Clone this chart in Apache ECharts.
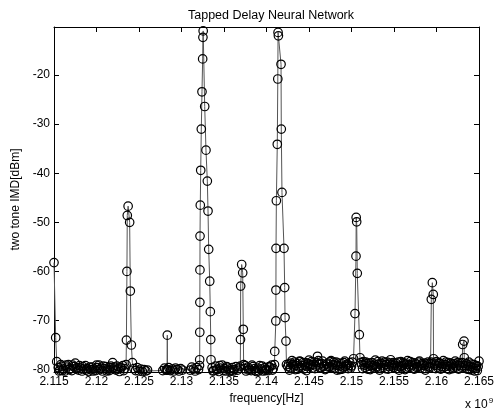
<!DOCTYPE html>
<html>
<head>
<meta charset="utf-8">
<title>Tapped Delay Neural Network</title>
<script src="https://cdn.jsdelivr.net/npm/echarts@6/dist/echarts.min.js"></script>
<style>
  html, body { margin: 0; padding: 0; background: #fff; }
  #chart { width: 502px; height: 413px; }
</style>
</head>
<body>
<div id="chart"></div>
<script>
// frequency in GHz (axis shows x 10^9), level in dBm
var freqTicks = [2.115, 2.12, 2.125, 2.13, 2.135, 2.14, 2.145, 2.15, 2.155, 2.16, 2.165];
var freqTickLabels = ['2.115', '2.12', '2.125', '2.13', '2.135', '2.14', '2.145', '2.15', '2.155', '2.16', '2.165'];
var imdTicks = [-80, -70, -60, -50, -40, -30, -20];

var edge2115 = [[2.1150,-58.2],[2.11520,-73.5],[2.11532,-78.4]];
var floor2115 = [[2.1155,-79.6],[2.1156,-80.3],[2.1157,-80.1],[2.1158,-79.0],[2.1159,-79.3],[2.1160,-80.2],[2.1161,-79.9],[2.1163,-80.3],[2.1164,-79.1],[2.1165,-79.5],[2.1167,-79.0],[2.1168,-80.0],[2.1169,-79.8],[2.1171,-80.2],[2.1172,-79.1],[2.1173,-79.4],[2.1175,-78.7],[2.1176,-79.9],[2.1177,-79.6],[2.1179,-80.1],[2.1180,-79.2],[2.1181,-79.7],[2.1183,-80.3],[2.1184,-79.4],[2.1185,-79.9],[2.1187,-79.2],[2.1188,-80.1],[2.1189,-79.8],[2.1191,-80.4],[2.1192,-79.5],[2.1193,-80.0],[2.1195,-79.5],[2.1196,-80.3],[2.1197,-79.9],[2.1199,-80.2],[2.1200,-79.1],[2.1201,-79.6],[2.1203,-79.1],[2.1204,-80.0],[2.1205,-79.7],[2.1207,-80.3],[2.1208,-79.3],[2.1209,-79.8],[2.1211,-79.4],[2.1212,-80.3],[2.1213,-80.0],[2.1215,-80.2],[2.1216,-79.6],[2.1217,-79.3],[2.1219,-78.6],[2.1220,-79.9],[2.1221,-79.5],[2.1223,-80.1],[2.1224,-79.3],[2.1225,-79.9],[2.1227,-80.4],[2.1228,-79.5],[2.1229,-79.7],[2.1231,-79.2],[2.1232,-80.2],[2.1233,-79.8]];
var peak2124 = [[2.12348,-79.0],[2.12352,-74.0],[2.12358,-60.0],[2.12362,-48.6],[2.12372,-46.7],[2.12390,-50.0],[2.12398,-64.0],[2.12410,-75.0],[2.12422,-78.6]];
var floor2125 = [[2.1244,-79.8],[2.1246,-80.2],[2.1248,-79.6],[2.1250,-80.3],[2.1252,-79.9],[2.1254,-80.4],[2.1256,-80.0],[2.1258,-80.3],[2.1260,-80.1]];
var floor2128 = [[2.1278,-80.2],[2.1280,-79.7],[2.1282,-80.1],[2.12830,-80.0],[2.12833,-73.0],[2.12836,-80.1],[2.1285,-79.6],[2.1287,-80.2],[2.1289,-79.9],[2.1291,-80.3],[2.1293,-79.7],[2.1295,-80.0],[2.1297,-80.3],[2.1299,-79.8],[2.1301,-80.1]];
var floor2131 = [[2.1310,-80.1],[2.1312,-79.5],[2.1314,-79.9],[2.1316,-80.3],[2.1318,-79.6],[2.1320,-80.0]];
var peak2132 = [[2.13212,-79.2],[2.13214,-78.0],[2.13215,-72.4],[2.13216,-66.3],[2.13217,-59.7],[2.13218,-52.8],[2.13221,-46.5],[2.13226,-39.4],[2.13233,-31.0],[2.13241,-23.4],[2.13249,-16.7],[2.13252,-12.3],[2.13255,-11.0],[2.13273,-26.4],[2.13288,-35.3],[2.13304,-41.6],[2.13312,-47.7],[2.13320,-55.5],[2.13332,-62.0],[2.13339,-68.2],[2.13344,-73.9],[2.13347,-78.0]];
var floor2134 = [[2.1336,-79.6],[2.1337,-80.3],[2.1338,-80.2],[2.1340,-79.3],[2.1341,-80.1],[2.1342,-79.9],[2.1344,-80.4],[2.1345,-79.2],[2.1346,-79.7],[2.1348,-79.1],[2.1349,-80.2],[2.1350,-79.8],[2.1352,-80.3],[2.1353,-79.4],[2.1354,-79.5],[2.1356,-79.9],[2.1357,-80.4],[2.1358,-80.2],[2.1360,-79.6],[2.1361,-80.3],[2.1362,-80.0],[2.1364,-79.4],[2.1366,-80.1],[2.1368,-79.7]];
var peak2137 = [[2.13692,-79.3],[2.13694,-73.9],[2.13696,-63.0],[2.13708,-58.6],[2.13720,-60.3],[2.13727,-71.8],[2.13731,-79.0]];
var floor2138 = [[2.1374,-79.8],[2.1375,-79.2],[2.1376,-80.3],[2.1378,-79.5],[2.1379,-80.1],[2.1380,-79.9],[2.1382,-80.2],[2.1383,-79.1],[2.1384,-79.4],[2.1386,-79.8],[2.1387,-80.2],[2.1388,-80.4],[2.1390,-79.7],[2.1391,-80.3],[2.1392,-79.2],[2.1394,-79.9],[2.1395,-79.3],[2.1396,-80.3],[2.1398,-79.6],[2.1399,-80.2],[2.1400,-80.0],[2.1402,-80.2],[2.1403,-79.4],[2.1404,-79.5],[2.1406,-79.1],[2.1407,-80.1],[2.1408,-79.8]];
var peak2141 = [[2.14094,-79.0],[2.14097,-76.3],[2.14110,-70.1],[2.14111,-63.8],[2.14112,-55.3],[2.14116,-45.6],[2.14127,-34.1],[2.14133,-20.8],[2.14136,-11.3],[2.14140,-12.0],[2.14171,-17.8],[2.14174,-31.0],[2.14182,-43.9],[2.14206,-55.3],[2.14214,-63.3],[2.14218,-69.4],[2.14229,-74.2],[2.14235,-79.0]];
var floor2145 = [[2.1425,-79.4],[2.1426,-78.9],[2.1427,-80.1],[2.1428,-79.6],[2.1429,-78.7],[2.1430,-78.2],[2.1431,-79.0],[2.1432,-79.3],[2.1433,-78.5],[2.1434,-80.0],[2.1435,-79.2],[2.1436,-78.8],[2.1437,-79.9],[2.1438,-79.5],[2.1439,-78.3],[2.1440,-78.4],[2.1441,-79.6],[2.1442,-79.2],[2.1443,-78.6],[2.1444,-79.9],[2.1445,-79.1],[2.1446,-78.6],[2.1447,-80.2],[2.1448,-79.4],[2.1449,-78.8],[2.1450,-78.1],[2.1451,-79.3],[2.1452,-79.0],[2.1453,-78.4],[2.1454,-79.7],[2.1455,-79.0],[2.1456,-78.5],[2.1457,-79.8],[2.1458,-79.3],[2.1459,-78.6],[2.1460,-77.3],[2.1461,-78.2],[2.1462,-78.9],[2.1463,-79.7],[2.1464,-79.6],[2.1465,-78.8],[2.1466,-78.3],[2.1467,-79.4],[2.1468,-79.1],[2.1469,-80.0],[2.1470,-79.8],[2.1471,-78.9],[2.1472,-78.7],[2.1473,-79.5],[2.1474,-79.4],[2.1475,-78.4],[2.1476,-78.2],[2.1477,-79.6],[2.1478,-79.0],[2.1479,-78.5],[2.1480,-79.7],[2.1481,-79.1],[2.1482,-78.5],[2.1483,-80.1],[2.1484,-79.2],[2.1485,-78.7],[2.1486,-80.0],[2.1487,-79.3],[2.1488,-78.8],[2.1489,-79.9],[2.1490,-79.5],[2.1491,-78.6],[2.1492,-78.3],[2.1493,-79.4],[2.1494,-79.1],[2.1495,-78.9],[2.1496,-79.8],[2.1497,-79.2],[2.1498,-78.6],[2.1499,-79.7],[2.1500,-79.3],[2.1501,-78.5]];
var peak2150 = [[2.15024,-77.8],[2.15041,-68.6],[2.15053,-56.9],[2.15055,-49.0],[2.15061,-49.9],[2.15068,-60.4],[2.15092,-72.9],[2.15100,-77.6]];
var floor2155 = [[2.1511,-78.6],[2.1512,-79.0],[2.1513,-79.8],[2.1514,-78.4],[2.1515,-79.1],[2.1516,-79.6],[2.1517,-78.5],[2.1518,-78.8],[2.1519,-79.9],[2.1520,-79.3],[2.1521,-78.7],[2.1522,-80.0],[2.1523,-79.2],[2.1524,-78.6],[2.1525,-79.5],[2.1526,-79.2],[2.1527,-78.9],[2.1528,-78.1],[2.1529,-79.4],[2.1530,-79.5],[2.1531,-78.4],[2.1532,-78.9],[2.1533,-80.1],[2.1534,-79.7],[2.1535,-78.8],[2.1536,-78.3],[2.1537,-79.6],[2.1538,-79.1],[2.1539,-78.5],[2.1540,-79.8],[2.1541,-79.0],[2.1542,-78.5],[2.1543,-79.9],[2.1544,-79.4],[2.1545,-78.7],[2.1546,-78.0],[2.1547,-79.3],[2.1548,-79.0],[2.1549,-78.6],[2.1550,-79.6],[2.1551,-79.1],[2.1552,-78.7],[2.1553,-79.8],[2.1554,-79.3],[2.1555,-78.5],[2.1556,-80.1],[2.1557,-79.4],[2.1558,-78.4],[2.1559,-79.7],[2.1560,-79.2],[2.1561,-78.6],[2.1562,-78.8],[2.1563,-80.0],[2.1564,-79.7],[2.1565,-78.9],[2.1566,-78.2],[2.1567,-79.5],[2.1568,-79.0],[2.1569,-78.4],[2.1570,-79.5],[2.1571,-79.1],[2.1572,-78.6],[2.1573,-79.8],[2.1574,-79.9],[2.1575,-78.7],[2.1576,-78.9],[2.1577,-79.6],[2.1578,-79.4],[2.1579,-78.5],[2.1580,-78.3],[2.1581,-79.7],[2.1582,-79.1],[2.1583,-78.8],[2.1584,-79.8],[2.1585,-79.2],[2.1586,-78.7],[2.1587,-80.1],[2.1588,-79.3],[2.1589,-78.9],[2.1590,-78.5],[2.1591,-79.4],[2.1592,-79.6],[2.1593,-78.8]];
var peak2160 = [[2.15936,-78.5],[2.15939,-65.7],[2.15951,-62.3],[2.15962,-64.7],[2.15965,-77.8]];
var floor2162 = [[2.1597,-78.7],[2.1598,-79.1],[2.1599,-79.8],[2.1600,-78.4],[2.1601,-79.2],[2.1602,-79.7],[2.1603,-78.6],[2.1604,-78.8],[2.1605,-79.9],[2.1606,-79.4],[2.1607,-78.9],[2.1608,-78.2],[2.1609,-79.5],[2.1610,-79.0],[2.1611,-78.5],[2.1612,-79.8],[2.1613,-79.3],[2.1614,-78.6],[2.1615,-80.0],[2.1616,-79.3],[2.1617,-78.7],[2.1618,-78.9],[2.1619,-79.8],[2.1620,-79.6],[2.1621,-78.8],[2.1622,-78.3],[2.1623,-79.5],[2.1624,-79.1],[2.1625,-78.6],[2.1626,-79.9],[2.1627,-79.2],[2.1628,-78.7],[2.1629,-79.5]];
var peak2163 = [[2.16302,-78.6],[2.16308,-74.9],[2.16324,-74.2],[2.16327,-77.6]];
var floor2164 = [[2.1633,-79.5],[2.1634,-79.2],[2.1635,-78.8],[2.1636,-79.9],[2.1637,-79.1],[2.1638,-78.5],[2.1639,-80.0],[2.1640,-79.4],[2.1641,-78.9],[2.1642,-80.1],[2.1643,-79.6],[2.1644,-79.0],[2.1645,-80.3],[2.1646,-79.7],[2.1647,-79.2],[2.1648,-80.2],[2.1649,-79.4],[2.1650,-78.3]];

var imdData = [].concat(edge2115, floor2115, peak2124, floor2125, floor2128, floor2131,
  peak2132, floor2134, peak2137, floor2138, peak2141, floor2145, peak2150,
  floor2155, peak2160, floor2162, peak2163, floor2164);

var myChart = echarts.init(document.getElementById('chart'));
var font = 'Liberation Sans, Arial, sans-serif';
var axisLine = { show: true, lineStyle: { color: '#000', width: 1 } };

var option = {
  animation: false,
  backgroundColor: '#fff',
  title: {
    text: 'Tapped Delay Neural Network',
    left: 266, top: 4, textAlign: 'center',
    textStyle: { fontSize: 12.5, fontWeight: 'normal', color: '#000', fontFamily: font }
  },
  grid: { left: 54, right: 23, top: 27, bottom: 41 },
  xAxis: [{
    type: 'value', min: 2.115, max: 2.165,
    name: 'frequency[Hz]', nameLocation: 'middle', nameGap: 19,
    nameTextStyle: { fontSize: 12, color: '#000', fontFamily: font },
    axisLine: axisLine,
    axisTick: { inside: true, length: 5, lineStyle: { color: '#000' }, customValues: freqTicks },
    axisLabel: {
      color: '#000', fontSize: 12, fontFamily: font, margin: 4, customValues: freqTicks,
      formatter: function (v) { return freqTickLabels[freqTicks.indexOf(+v.toFixed(3))]; }
    },
    splitLine: { show: false }
  }, {
    type: 'value', min: 2.115, max: 2.165, position: 'top',
    axisLine: axisLine,
    axisTick: { inside: true, length: 5, lineStyle: { color: '#000' }, customValues: freqTicks },
    axisLabel: { show: false },
    splitLine: { show: false }
  }],
  yAxis: [{
    type: 'value', min: -80.5, max: -10.2,
    name: 'two tone IMD[dBm]', nameLocation: 'middle', nameGap: 28,
    nameTextStyle: { fontSize: 12, color: '#000', fontFamily: font },
    axisLine: axisLine,
    axisTick: { inside: true, length: 5, lineStyle: { color: '#000' }, customValues: imdTicks },
    axisLabel: { color: '#000', fontSize: 12, fontFamily: font, margin: 4, customValues: imdTicks },
    splitLine: { show: false }
  }, {
    type: 'value', min: -80.5, max: -10.2, position: 'right',
    axisLine: axisLine,
    axisTick: { inside: true, length: 5, lineStyle: { color: '#000' }, customValues: imdTicks },
    axisLabel: { show: false },
    splitLine: { show: false }
  }],
  graphic: [{
    type: 'text', left: 465, top: 397,
    style: {
      text: 'x 10{sup|9}',
      font: '12px ' + font, fill: '#000',
      rich: { sup: { fontSize: 8, verticalAlign: 'top', padding: [0, 0, 8, 1] } }
    }
  }],
  series: [{
    type: 'line',
    data: imdData,
    symbol: 'circle',
    symbolSize: 8.5,
    showSymbol: true,
    clip: false,
    lineStyle: { color: '#555', width: 1 },
    itemStyle: { color: 'rgba(0,0,0,0)', borderColor: '#000', borderWidth: 1.2 },
    emphasis: { disabled: true }
  }]
};

myChart.setOption(option);
</script>
</body>
</html>
